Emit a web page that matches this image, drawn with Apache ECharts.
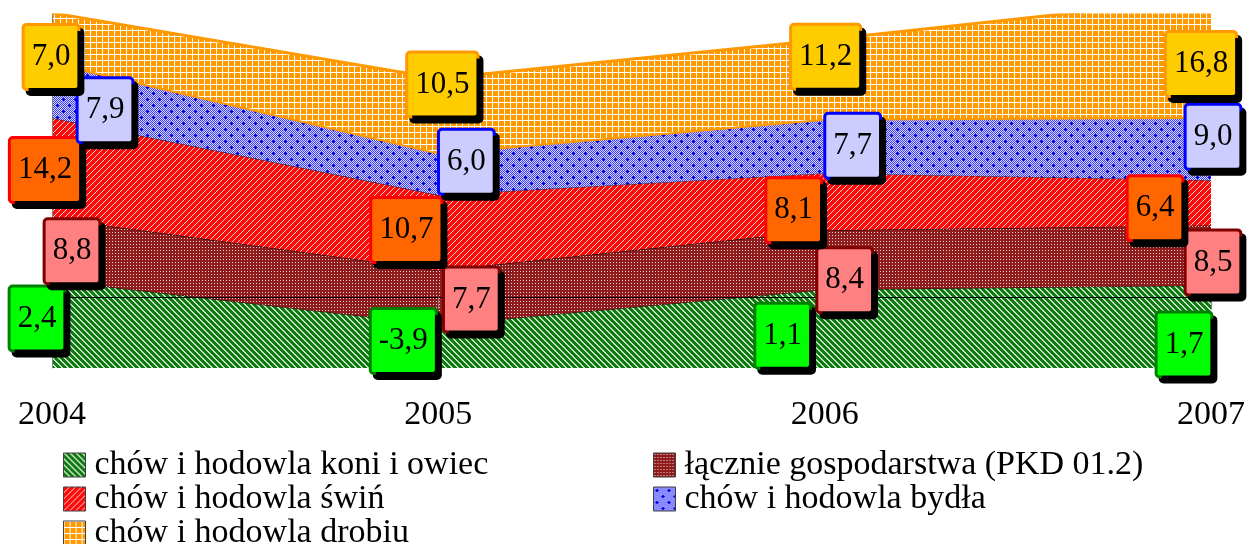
<!DOCTYPE html>
<html>
<head>
<meta charset="utf-8">
<title>chów i hodowla</title>
<script src="https://cdn.jsdelivr.net/npm/echarts@6.0.0/dist/echarts.min.js"></script>
<style>
  html, body { margin: 0; padding: 0; background: #fff; }
  #chart { width: 1248px; height: 544px; }
</style>
</head>
<body>
<div id="chart"></div>
<script>
const years = ['2004', '2005', '2006', '2007']
const konieOwce = [2.4, -3.9, 1.1, 1.7]
const gospodarstwa = [8.8, 7.7, 8.4, 8.5]
const swinie = [14.2, 10.7, 8.1, 6.4]
const bydlo = [7.9, 6.0, 7.7, 9.0]
const drob = [7.0, 10.5, 11.2, 16.8]

const names = [
  'chów i hodowla koni i owiec',
  'łącznie gospodarstwa (PKD 01.2)',
  'chów i hodowla świń',
  'chów i hodowla bydła',
  'chów i hodowla drobiu'
]

// przesunięcia etykiet względem punktu (px)
const labelOffsets = [
  [[-15, 38], [-35, 16], [-42, 46], [-27, 59]],
  [[20, 33], [33, 29], [20, 50], [2, 37]],
  [[-7, 52], [-32, 35], [-31, 37], [-56, 28]],
  [[53, 48], [28, 9], [28, 27], [2, 20]],
  [[-1, 44], [4, 6], [1, 17], [-10, 66]]
]

const serif = '"Liberation Serif", "Times New Roman", serif'

function pattern(size, draw) {
  const c = document.createElement('canvas')
  c.width = c.height = size
  const ctx = c.getContext('2d')
  draw(ctx, size)
  return { image: c, repeat: 'repeat' }
}

const greenFill = pattern(6, (ctx, s) => {
  ctx.fillStyle = '#0f7a0f'
  ctx.fillRect(0, 0, s, s)
  ctx.fillStyle = '#c8e0c8'
  for (let i = 0; i < s; i++) {
    ctx.fillRect(i, i, 1, 1)
    ctx.fillRect((i + 1) % s, i, 1, 1)
  }
})
const dkredFill = pattern(3, (ctx, s) => {
  ctx.fillStyle = '#8e1c1c'
  ctx.fillRect(0, 0, s, s)
  ctx.fillStyle = '#f0d0d0'
  ctx.fillRect(1, 1, 1, 1)
})
const redFill = pattern(6, (ctx, s) => {
  ctx.fillStyle = '#ff0a0a'
  ctx.fillRect(0, 0, s, s)
  ctx.fillStyle = '#ffd8d8'
  for (let i = 0; i < s; i++) ctx.fillRect(i, s - 1 - i, 1, 1)
})
const blueFill = pattern(12, (ctx, s) => {
  ctx.fillStyle = '#d8d8ff'
  ctx.fillRect(0, 0, s, s)
  ctx.fillStyle = '#3c3cff'
  for (let y = 0; y < s; y++) {
    for (let x = 0; x < s; x++) {
      if ((x + y) % 2 === 0) ctx.fillRect(x, y, 1, 1)
    }
  }
  ctx.fillStyle = '#0000d0'
  ;[[3, 3], [9, 9]].forEach(p => {
    ctx.fillRect(p[0] - 1, p[1], 3, 1)
    ctx.fillRect(p[0], p[1] - 1, 1, 3)
  })
})
const orangeFill = pattern(6, (ctx, s) => {
  ctx.fillStyle = '#ff9900'
  ctx.fillRect(0, 0, s, s)
  ctx.fillStyle = '#ffffff'
  ctx.fillRect(0, 0, s, 1)
  ctx.fillRect(0, 0, 1, s)
})

const seriesDefs = [
  { data: konieOwce, fill: greenFill, line: '#000', lineW: 1, box: '#00ff00', border: '#008000' },
  { data: gospodarstwa, fill: dkredFill, line: '#000', lineW: 1, box: '#ff8080', border: '#800000' },
  { data: swinie, fill: redFill, line: '#202020', lineW: 1, box: '#ff6600', border: '#ff0000' },
  { data: bydlo, fill: blueFill, line: '#ff9900', lineW: 4, box: '#ccccff', border: '#0000ff' },
  { data: drob, fill: orangeFill, line: '#ff9900', lineW: 3, box: '#ffcc00', border: '#ff9900' }
]

function fmt(v) {
  return v.toFixed(1).replace('.', ',')
}

const series = []
const running = [0, 0, 0, 0]
seriesDefs.forEach((d, i) => {
  series.push({
    name: names[i],
    type: 'line',
    stack: 'total',
    stackStrategy: 'all',
    data: d.data,
    symbol: 'none',
    lineStyle: { color: d.line, width: d.lineW },
    itemStyle: { color: d.box },
    areaStyle: { color: d.fill, opacity: 1, origin: 'start' },
    z: 2 + i * 0.01
  })
  const cum = d.data.map((v, j) => (running[j] += v))
  series.push({
    type: 'scatter',
    data: cum.map((v, j) => ({ value: v, label: { offset: labelOffsets[i][j] } })),
    symbolSize: 1,
    itemStyle: { color: 'rgba(0,0,0,0)', opacity: 1 },
    clip: false,
    silent: true,
    z: 10,
    label: {
      show: true,
      position: 'inside',
      formatter: p => fmt(d.data[p.dataIndex]),
      fontFamily: serif,
      fontSize: 31,
      lineHeight: 34,
      color: '#000',
      opacity: 1,
      backgroundColor: d.box,
      borderColor: d.border,
      borderWidth: 3,
      borderRadius: 2,
      padding: [15, 7, 13, 7],
      shadowColor: '#000',
      shadowBlur: 0,
      shadowOffsetX: 4,
      shadowOffsetY: 5
    }
  })
})

const fills = seriesDefs.map(d => d.fill)
const legendText = { fontFamily: serif, fontSize: 34, lineHeight: 34, color: '#000', padding: [0, 0, 0, 4] }
const legendSpots = [[58, 443], [648, 443], [58, 477], [648, 477], [58, 511]]
const legends = names.map((n, i) => ({
  left: legendSpots[i][0],
  top: legendSpots[i][1],
  itemWidth: 22,
  itemHeight: 24,
  selectedMode: false,
  textStyle: legendText,
  data: [{ name: n, icon: 'rect', itemStyle: { color: fills[i], borderColor: '#404040', borderWidth: 1 } }]
}))

const chart = echarts.init(document.getElementById('chart'))
chart.setOption({
  animation: false,
  grid: { left: 52, right: 36, top: 15, bottom: 176 },
  xAxis: {
    type: 'category',
    data: years,
    boundaryGap: false,
    axisLine: { lineStyle: { color: '#000', width: 1 } },
    axisTick: { show: true, length: 12, lineStyle: { color: '#808080' } },
    axisLabel: { fontFamily: serif, fontSize: 34, color: '#000', margin: 30 },
    z: 3
  },
  yAxis: {
    type: 'value',
    min: -10,
    max: 40,
    axisLine: { show: true, lineStyle: { color: '#808080' } },
    axisTick: { show: false },
    axisLabel: { show: false },
    splitLine: { show: false },
    z: 3
  },
  legend: legends,
  series: series
})
</script>
</body>
</html>
